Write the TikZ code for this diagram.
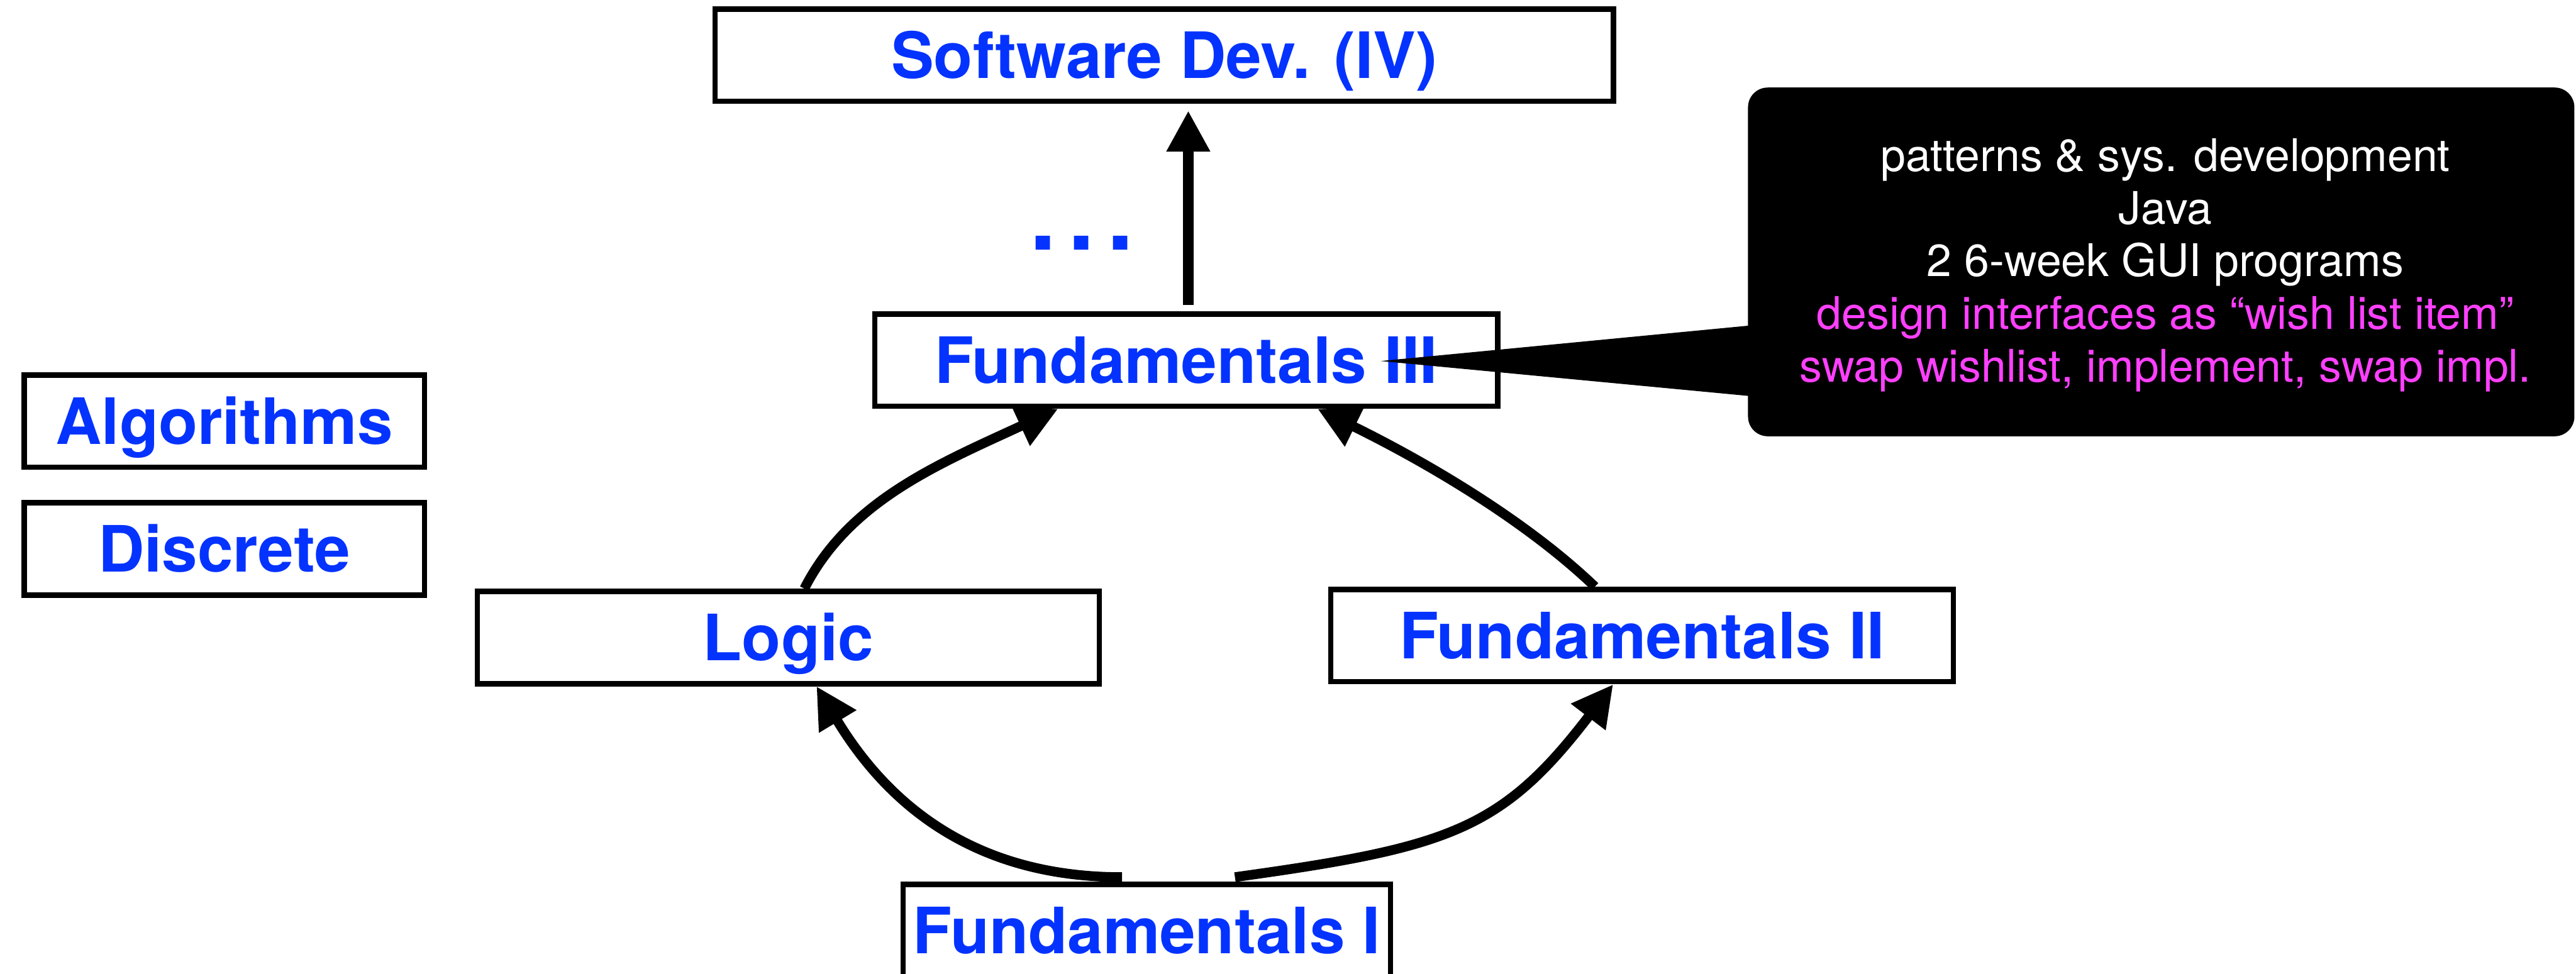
\documentclass[tikz,border=0pt]{standalone}
\usepackage{fontspec}
\setmainfont{TeX Gyre Heros}
\usetikzlibrary{arrows.meta,calc,backgrounds}
\definecolor{kblue}{HTML}{0433FF}
\definecolor{kmag}{HTML}{FF40FF}
\begin{document}
\begin{tikzpicture}[x=1pt,y=1pt,
  box/.style={draw=black, line width=3.3pt, fill=white, inner sep=0pt,
    minimum height=56.2pt, text=kblue,
    font=\fontsize{38.9pt}{40pt}\selectfont\bfseries,
    text height=27.9pt, text depth=0pt},
  conn/.style={line width=5.9pt, -{Triangle[length=25pt,width=25pt]}},
  ctext/.style={anchor=base, inner sep=0pt, font=\fontsize{27.4pt}{32pt}\selectfont}
]
\useasboundingbox (0,0) rectangle (1568,592.6);
% boxes
\node[box, minimum width=546.9pt] (sw) at (708.7,559) {Software Dev. (IV)};
\node[box, minimum width=379.1pt] (f3) at (722,373.4) {Fundamentals III};
\node[box, minimum width=243.7pt] (alg) at (136.5,336.2) {Algorithms};
\node[box, minimum width=243.7pt] (disc) at (136.5,258.4) {Discrete};
\node[box, minimum width=378.6pt] (logic) at (479.8,204.5) {Logic};
\node[box, minimum width=379pt] (f2) at (999.5,205.7) {Fundamentals II};
\node[box, minimum width=296.7pt] (f1) at (698,26.1) {Fundamentals I};
\node[anchor=base, inner sep=0pt, text=kblue,
  font=\fontsize{58pt}{60pt}\selectfont\bfseries] (dots) at (658.5,440.3) {.\kern7.3pt.\kern7.3pt.};
% connectors
\begin{scope}[on background layer]
\draw[conn, line width=6.6pt] ($(f3.north)+(1.3,3.9)$) -- ($(sw.south)+(14.6,-4)$);
\draw[conn] ($(f1.north)+(-15,2.75)$) .. controls +(-88,0) and +(44.7,-74) .. ($(logic.south)+(17.2,0)$);
\draw[conn] ($(f1.north)+(53.7,2.75)$) .. controls +(130,18.1) and +(-68,-89) .. ($(f2.south)+(-17.6,0)$);
\draw[conn] ($(logic.north)+(9.8,0)$) .. controls +(27.2,53.5) and +(-72.8,-33.6) .. ($(f3.south)+(-78,0)$);
\draw[conn] ($(f2.north)+(-28.7,0)$) .. controls +(-43.2,41.4) and +(63,-30.8) .. ($(f3.south)+(80,0)$);
\end{scope}
% callout
\node[fill=black, rounded corners=12pt, minimum width=503pt, minimum height=212.3pt, inner sep=0pt] (callout) at (1315.5,433.15) {};
\coordinate (ptip) at (840.4,372.8);
\fill[black] (ptip) -- ($(callout.west)+(8,-38.1)$) -- ($(callout.west)+(8,-82.3)$) -- cycle;
\node[ctext, text=white] (c1) at (1318,488.4) {patterns \& sys. development};
\node[ctext, text=white] (c2) at (1318,456.3) {Java};
\node[ctext, text=white] (c3) at (1318,424.2) {2 6-week GUI programs};
\node[ctext, text=kmag] (c4) at (1318,392.1) {design interfaces as “wish list item”};
\node[ctext, text=kmag] (c5) at (1318,360.0) {swap wishlist, implement, swap impl.};
\end{tikzpicture}
\end{document}
